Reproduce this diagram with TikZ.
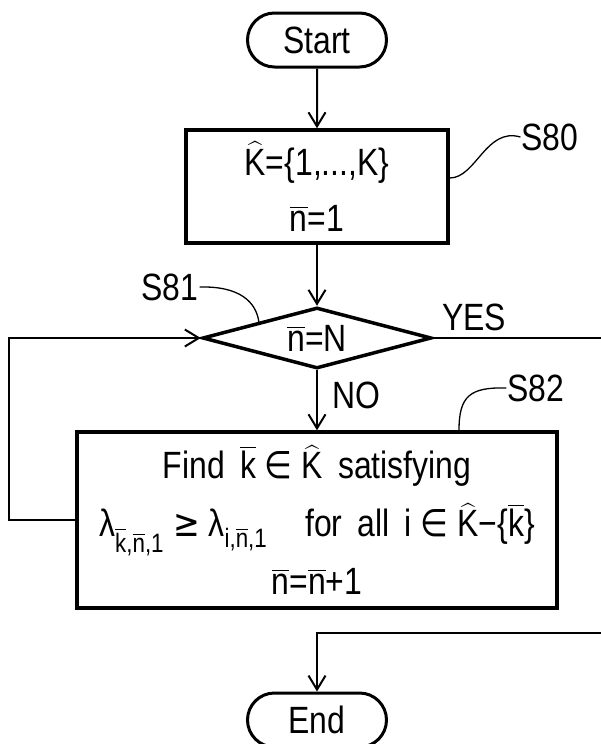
\documentclass[tikz,border=0pt]{standalone}
\usepackage{amsmath}
\usepackage{fontspec}
\setmainfont{Liberation Sans}[FakeStretch=0.84]
\newfontfamily\symf{DejaVu Sans}[FakeStretch=0.84]
\usetikzlibrary{shapes.geometric,shapes.misc,arrows.meta,positioning}

\newcommand{\bn}{\ensuremath{\overline{\text{n}}}}
\newcommand{\bk}{\ensuremath{\overline{\text{k}}}}
\newcommand{\hK}{\ensuremath{\widehat{\text{K}}}}
\newcommand{\isin}{{\symf ∈}}
\newcommand{\geqs}{{\symf ≥}}

\begin{document}
\begin{tikzpicture}[x=1pt, y=-1pt, line join=miter,
        every node/.style={font=\fontsize{38}{58}\selectfont},
        term/.style={draw, rounded rectangle, line width=3pt, minimum width=139pt, minimum height=54pt, inner sep=0pt},
        box/.style={draw, line width=3.5pt, align=center, inner sep=0pt},
        cond/.style={draw, diamond, line width=3.5pt, aspect=3.75, minimum width=229pt, minimum height=61pt, inner sep=0pt},
        flow/.style={line width=2pt, -{Straight Barb[length=14pt, width=17pt, line width=2pt]}},
        lead/.style={line width=1.3pt},
        tag/.style={inner sep=1pt}]
    \useasboundingbox (0,0) rectangle (601,744);

    \node[term] (start) at (317,40) {Start};
    \node[box, minimum width=262pt, minimum height=113pt, font=\fontsize{38}{56}\selectfont] (s80) at (317,186.5)
        {\hK=\{1,...,K\}\\ \bn=1};
    \node[cond] (s81) at (317,338) {\bn=N};
    \node[box, minimum width=480pt, minimum height=176pt] (s82) at (317,520)
        {Find\, \bk{} \isin{} \hK{} \,satisfying\\
         λ$_{\text{\bk,\bn,1}}$ \geqs{} λ$_{\text{i,\bn,1}}$\quad for\, all\, i \isin{} \hK−\{\bk\}\\
         \bn=\bn+1};
    \node[term] (end) at (317,720) {End};

    % reperes
    \node[tag] (t80) at (550,137) {S80};
    \node[tag] (t81) at (170,287) {S81};
    \node[tag] (t82) at (536,388) {S82};
    \node (yes) at (474,317) {YES};
    \node (no) at (356,395) {NO};

    \draw[lead] ([yshift=8.5pt]s80.east) .. controls (476,178) and (486,127) .. (t80.west);
    \draw[lead] (t81.east) .. controls (240,286) and (256,302) .. (s81.north west);
    \draw[lead] (t82.west) .. controls (470,387) and (459,396) .. ([xshift=142pt]s82.north);

    % fleches
    \draw[flow] (start) -- (s80);
    \draw[flow] (s80) -- (s81);
    \draw[flow] (s81) -- (s82);
    \draw[flow] (s82.west) -- ++(-66,0) |- (s81.west);
    \coordinate (yesturn) at (615,633);
    \draw[flow] (s81.east) -| (yesturn) -| (end.north);
\end{tikzpicture}
\end{document}
